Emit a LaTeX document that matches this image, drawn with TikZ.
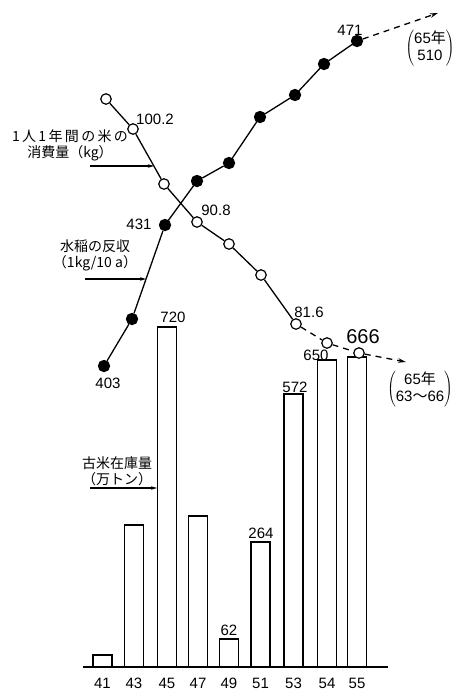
\documentclass[tikz,border=0pt]{standalone}
\usepackage{fontspec}
\setmainfont{Liberation Sans}
\newfontfamily\jp{Noto Sans CJK JP}
\usetikzlibrary{arrows.meta}

\begin{document}
\begin{tikzpicture}[x=1pt,y=-1pt,line width=1.3pt,
  opendot/.style={circle,draw,fill=white,inner sep=0pt,minimum size=10.5pt,line width=1.2pt},
  fulldot/.style={circle,draw,fill=black,inner sep=0pt,minimum size=11pt},
  num/.style={font=\fontsize{15}{15}\selectfont,inner sep=0pt},
  lbl/.style={font=\jp\fontsize{14}{16}\selectfont,align=center,inner sep=0pt},
  note/.style={font=\fontsize{15}{17}\selectfont,inner sep=0pt},
  pointer/.style={-{Stealth[length=6pt,width=3.5pt]},line width=1.5pt},
  trend/.style={dash pattern=on 6pt off 5pt,-{Stealth[length=8pt,width=4.5pt]}},
  bar/.style={draw,line width=1.5pt}]
\useasboundingbox (0,0) rectangle (456,691);

% stock of old rice
\draw [line width=1.5pt] (83,667) -- (388,667);
\foreach \x/\t/\yr in {102.5/655/41,134/525/43,167/327/45,198/516/47,229/639/49,
                        260.5/542/51,293.5/394/53,327/360/54,357/357/55}{
  \draw [bar] ({\x-9.5},667) rectangle ({\x+9.5},\t);
  \node [num] at (\x,683) {\yr};
}
\node [num] at (173,317) {720};
\node [num] at (261,533) {264};
\node [num] at (229,630) {62};
\node [num] at (295,387) {572};
\node [num] at (316,355) {650};
\node [num,font=\fontsize{20}{20}\selectfont] at (363,337) {666};

% rice eaten per person
\node [opendot] (c1) at (106,99) {};
\node [opendot] (c2) at (133,129) {};
\node [opendot] (c3) at (164,184) {};
\node [opendot] (c4) at (197,222) {};
\node [opendot] (c5) at (229,244) {};
\node [opendot] (c6) at (261,275) {};
\node [opendot] (c7) at (296,324) {};
\node [opendot] (c8) at (327,343) {};
\node [opendot] (c9) at (359,353) {};
\coordinate (cend) at (406,362);
\draw (c1) -- (c2) -- (c3) -- (c4) -- (c5) -- (c6) -- (c7);
\draw [trend] (c7) -- (c8) -- (c9) -- (cend);
\node [num] at (155,119) {100.2};
\node [num] at (216,210) {90.8};
\node [num] at (309,312) {81.6};

% paddy yield
\node [fulldot] (y1) at (104,366) {};
\node [fulldot] (y2) at (132,319) {};
\node [fulldot] (y3) at (165,225) {};
\node [fulldot] (y4) at (197,181) {};
\node [fulldot] (y5) at (229,163) {};
\node [fulldot] (y6) at (260,117) {};
\node [fulldot] (y7) at (295,95) {};
\node [fulldot] (y8) at (324,64) {};
\node [fulldot] (y9) at (357,41) {};
\coordinate (yend) at (438,13);
\draw (y1) -- (y2) -- (y3) -- (y4) -- (y5) -- (y6) -- (y7) -- (y8) -- (y9);
\draw [trend] (y9) -- (yend);
\node [num] at (108,383) {403};
\node [num] at (139,224) {431};
\node [num] at (350,30) {471};

% 65 notes
\node [note] (n1) at (430,48) {$\left(\begin{tabular}{@{}c@{}}65{\jp 年}\\510\end{tabular}\right)$};
\node [note] (n2) at (420,389) {$\left(\begin{tabular}{@{}c@{}}65{\jp 年}\\63{\jp ～}66\end{tabular}\right)$};

% labels
\node [lbl] (cons) at (70,145) {1\,人\,1\,年\,間\,の\,米\,の\\消費量（kg）};
\coordinate (p1) at (90,166);
\coordinate (p1e) at (154,166);
\draw [pointer] (p1) -- (p1e);
\node [lbl] (yld) at (95,255) {水稲の反収\\（1kg/10 a）};
\coordinate (p2) at (85,279);
\coordinate (p2e) at (146,279);
\draw [pointer] (p2) -- (p2e);
\node [lbl] (stk) at (117,471) {古米在庫量\\（万トン）};
\coordinate (p3) at (90,488);
\coordinate (p3e) at (157,488);
\draw [pointer] (p3) -- (p3e);
\end{tikzpicture}
\end{document}
